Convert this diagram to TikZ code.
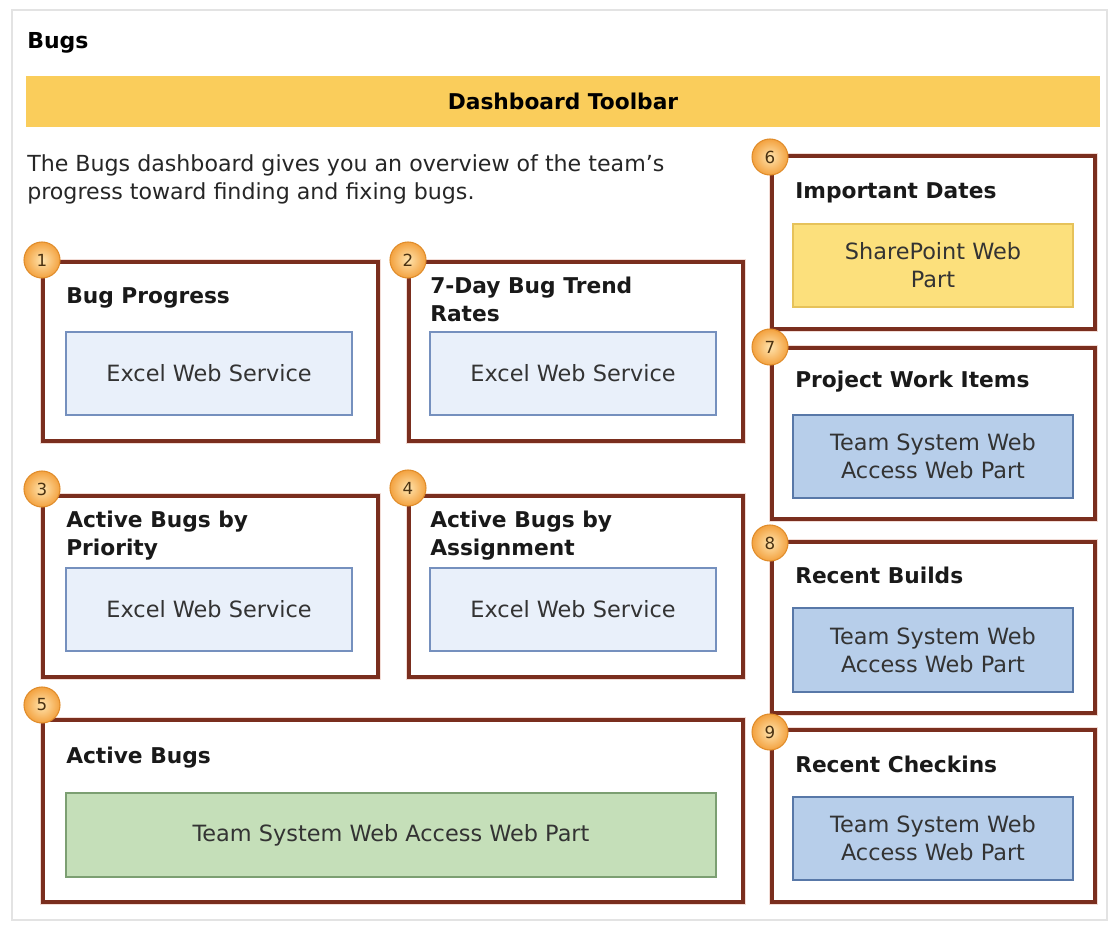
\documentclass[tikz,border=0pt]{standalone}
\usepackage{fontspec}
\setmainfont{DejaVu Sans}
\usetikzlibrary{fit}
\definecolor{framec}{HTML}{7A2E1E}
\definecolor{haloc}{HTML}{F2DCD6}
\definecolor{exfill}{HTML}{E9F0FA}
\definecolor{exdraw}{HTML}{7590BE}
\definecolor{spfill}{HTML}{FCE07C}
\definecolor{spdraw}{HTML}{E6C25A}
\definecolor{tsfill}{HTML}{B7CEEA}
\definecolor{tsdraw}{HTML}{5878A8}
\definecolor{grfill}{HTML}{C5DFB9}
\definecolor{grdraw}{HTML}{7C9F72}
\definecolor{tbfill}{HTML}{FACD5B}
\definecolor{outerc}{HTML}{E3E3E3}
\definecolor{badgein}{HTML}{FFE4AE}
\definecolor{badgeout}{HTML}{F3A240}
\definecolor{badgedraw}{HTML}{E08C2A}
\definecolor{badgetext}{HTML}{4A3212}
\definecolor{innertext}{HTML}{333333}
\tikzset{
  frame/.style={draw=framec, line width=2.3pt, inner sep=0pt, fill=white},
  halo/.style={draw=haloc, line width=4.5pt, inner sep=0pt},
  exbox/.style={draw=exdraw, fill=exfill, line width=1.1pt, inner sep=0pt},
  spbox/.style={draw=spdraw, fill=spfill, line width=1.1pt, inner sep=0pt},
  tsbox/.style={draw=tsdraw, fill=tsfill, line width=1.1pt, inner sep=0pt},
  grbox/.style={draw=grdraw, fill=grfill, line width=1.1pt, inner sep=0pt},
  boxtitle/.style={anchor=west, align=left, inner sep=0pt, text=black!90,
    font=\fontsize{16.3}{21}\selectfont\bfseries},
  boxtext/.style={align=center, inner sep=0pt, text=innertext,
    font=\fontsize{16.8}{21}\selectfont},
  badge/.style={circle, minimum size=27pt, inner sep=0pt, draw=badgedraw,
    line width=0.8pt, inner color=badgein, outer color=badgeout,
    text=badgetext, font=\fontsize{12.5}{12.5}\selectfont},
}
\begin{document}
\begin{tikzpicture}[x=0.75pt,y=-0.75pt]
\useasboundingbox (0,0) rectangle (1109,927);
\fill[white] (0,0) rectangle (1109,927);
\node[draw=outerc, line width=1.5pt, inner sep=0pt, fit={(12,10) (1107,920)}] (outer) {};

\node[anchor=west, inner sep=0pt, font=\fontsize{16.5}{21}\selectfont\bfseries] (title) at (27,43) {Bugs};
\node[fill=tbfill, inner sep=0pt, fit={(26,76) (1100,127)}] (toolbar) {};
\node[inner sep=0pt, font=\fontsize{16.3}{21}\selectfont\bfseries] (tbtext) at (toolbar.center) {Dashboard Toolbar};

\node[anchor=west, align=left, inner sep=0pt, text=black!85, font=\fontsize{16.6}{21}\selectfont] (intro) at (27,179)
  {The Bugs dashboard gives you an overview of the team’s\\progress toward finding and fixing bugs.};

% frames
\foreach \n/\a/\b in {1/{(43,262)}/{(378,441)}, 2/{(409,262)}/{(743,441)},
    3/{(43,496)}/{(378,677)}, 4/{(409,496)}/{(743,677)}, 5/{(43,720)}/{(743,902)},
    6/{(772,156)}/{(1095,329)}, 7/{(772,348)}/{(1095,519)},
    8/{(772,542)}/{(1095,713)}, 9/{(772,730)}/{(1095,902)}}{
  \node[halo, fit={\a \b}] (h\n) {};
  \node[frame, fit={\a \b}] (f\n) {};
}

% titles
\node[boxtitle] (t1) at (66,298) {Bug Progress};
\node[boxtitle] (t2) at (430,299) {7-Day Bug Trend\\Rates};
\node[boxtitle] (t3) at (66,536) {Active Bugs by\\Priority};
\node[boxtitle] (t4) at (430,536) {Active Bugs by\\Assignment};
\node[boxtitle] (t5) at (66,758) {Active Bugs};
\node[boxtitle] (t6) at (795,193) {Important Dates};
\node[boxtitle] (t7) at (795,382) {Project Work Items};
\node[boxtitle] (t8) at (795,575) {Recent Builds};
\node[boxtitle] (t9) at (795,764) {Recent Checkins};

% inner boxes
\node[exbox, fit={(66,332) (352,415)}] (i1) {};
\node[exbox, fit={(430,332) (716,415)}] (i2) {};
\node[exbox, fit={(66,568) (352,651)}] (i3) {};
\node[exbox, fit={(430,568) (716,651)}] (i4) {};
\node[grbox, fit={(66,793) (716,877)}] (i5) {};
\node[spbox, fit={(793,224) (1073,307)}] (i6) {};
\node[tsbox, fit={(793,415) (1073,498)}] (i7) {};
\node[tsbox, fit={(793,608) (1073,692)}] (i8) {};
\node[tsbox, fit={(793,797) (1073,880)}] (i9) {};

\node[boxtext] (l1) at (i1.center) {Excel Web Service};
\node[boxtext] (l2) at (i2.center) {Excel Web Service};
\node[boxtext] (l3) at (i3.center) {Excel Web Service};
\node[boxtext] (l4) at (i4.center) {Excel Web Service};
\node[boxtext] (l5) at (i5.center) {Team System Web Access Web Part};
\node[boxtext] (l6) at (i6.center) {SharePoint Web\\Part};
\node[boxtext] (l7) at (i7.center) {Team System Web\\Access Web Part};
\node[boxtext] (l8) at (i8.center) {Team System Web\\Access Web Part};
\node[boxtext] (l9) at (i9.center) {Team System Web\\Access Web Part};

% badges
\node[badge] (b1) at (42,260) {1};
\node[badge] (b2) at (408,260) {2};
\node[badge] (b3) at (42,489) {3};
\node[badge] (b4) at (408,488) {4};
\node[badge] (b5) at (42,705) {5};
\node[badge] (b6) at (770,157) {6};
\node[badge] (b7) at (770,347) {7};
\node[badge] (b8) at (770,543) {8};
\node[badge] (b9) at (770,732) {9};
\end{tikzpicture}
\end{document}
